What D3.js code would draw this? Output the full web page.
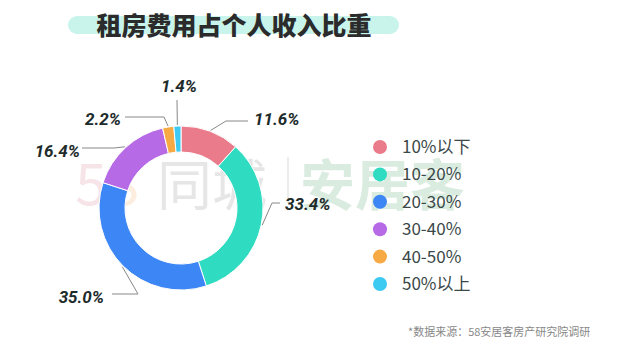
<!DOCTYPE html>
<html>
<head>
<meta charset="utf-8">
<script src="https://cdn.jsdelivr.net/npm/d3@7"></script>
<style>
  body { margin: 0; background: #fff; }
  svg { display: block; }
</style>
</head>
<body>
<div id="chart"></div>
<script>
var categories = ["10%以下", "10-20%", "20-30%", "30-40%", "40-50%", "50%以上"];
var values = [11.6, 33.4, 35.0, 16.4, 2.2, 1.4];
var colors = ["#ea7b8b", "#2fdcc2", "#3d86f6", "#b76ae6", "#f7a944", "#3ccaf2"];
// label anchor per slice: text pos + elbow point
var labelPos = [
  {tx: 254, ty: 119, ex: 226, ey: 121, lx: 248, anchor: "start"},
  {tx: 285, ty: 204, ex: 272, ey: 203, lx: 280, anchor: "start"},
  {tx: 104, ty: 297, ex: 138, ey: 294, lx: 112, anchor: "end"},
  {tx: 80, ty: 151, ex: 114, ey: 148, lx: 82, anchor: "end"},
  {tx: 121, ty: 119, ex: 164, ey: 117, lx: 125, anchor: "end"},
  {tx: 197, ty: 86, ex: 177, ey: 100, lx: 177, anchor: "end"}
];

var W = 620, H = 359;
var svg = d3.select("#chart").append("svg").attr("width", W).attr("height", H);

// title with pill
svg.append("rect").attr("x", 68).attr("y", 16).attr("width", 331).attr("height", 18)
  .attr("rx", 9).attr("fill", "#c9f4ec");
svg.append("text").attr("x", 234).attr("y", 35).attr("text-anchor", "middle")
  .attr("font-family", "Noto Sans CJK SC").attr("font-weight", 900)
  .attr("font-size", 25).attr("fill", "#2b2b2b").text("租房费用占个人收入比重");

// watermark
var wm = svg.append("g").attr("opacity", 0.18).attr("font-family", "Noto Sans CJK SC");
wm.append("text").attr("x", 75).attr("y", 205).attr("font-size", 58).attr("fill", "#d0708a").text("5");
wm.append("text").attr("x", 107).attr("y", 205).attr("font-size", 58).attr("fill", "#f0a050").text("8");
wm.append("text").attr("x", 157).attr("y", 205).attr("font-size", 55).attr("fill", "#777").text("同城");
wm.append("rect").attr("x", 287).attr("y", 157).attr("width", 2).attr("height", 46).attr("fill", "#999");
wm.append("text").attr("x", 300).attr("y", 205).attr("font-size", 55).attr("font-weight", 700).attr("fill", "#3a9a5a").text("安居客");

var cx = 181, cy = 208, outerR = 82, innerR = 56;
var pie = d3.pie().sort(null).value(function(d) { return d; });
var arc = d3.arc().innerRadius(innerR).outerRadius(outerR);
var arcs = pie(values);

var g = svg.append("g").attr("transform", "translate(" + cx + "," + cy + ")");
g.selectAll("path").data(arcs).enter().append("path")
  .attr("d", arc)
  .attr("fill", function(d, i) { return colors[i]; })
  .attr("stroke", "#fff").attr("stroke-width", 1);

// leader lines + labels
var mid = d3.arc().innerRadius(outerR + 1).outerRadius(outerR + 1);
arcs.forEach(function(d, i) {
  var p = mid.centroid(d);
  var L = labelPos[i];
  svg.append("polyline")
    .attr("points", [[p[0] + cx, p[1] + cy], [L.ex, L.ey], [L.lx, L.ey]].join(" "))
    .attr("fill", "none").attr("stroke", "#888").attr("stroke-width", 1);
  svg.append("text").attr("x", L.tx).attr("y", L.ty + 6)
    .attr("text-anchor", L.anchor)
    .attr("font-family", "Roboto").attr("font-style", "italic").attr("font-weight", 700)
    .attr("font-size", 17).attr("fill", "#1d2b2b")
    .text(values[i].toFixed(1) + "%");
});

// legend
var ly = d3.scalePoint().domain(categories).range([147, 284]);
var leg = svg.append("g");
categories.forEach(function(c, i) {
  leg.append("circle").attr("cx", 380).attr("cy", ly(c)).attr("r", 7).attr("fill", colors[i]);
  leg.append("text").attr("x", 402).attr("y", ly(c) + 6)
    .attr("font-family", "Noto Sans CJK SC").attr("font-size", 17).attr("fill", "#3a4848")
    .text(c);
});

svg.append("text").attr("x", 408).attr("y", 336)
  .attr("font-family", "Noto Sans CJK SC").attr("font-size", 11).attr("fill", "#888")
  .text("*数据来源：58安居客房产研究院调研");
</script>
</body>
</html>
